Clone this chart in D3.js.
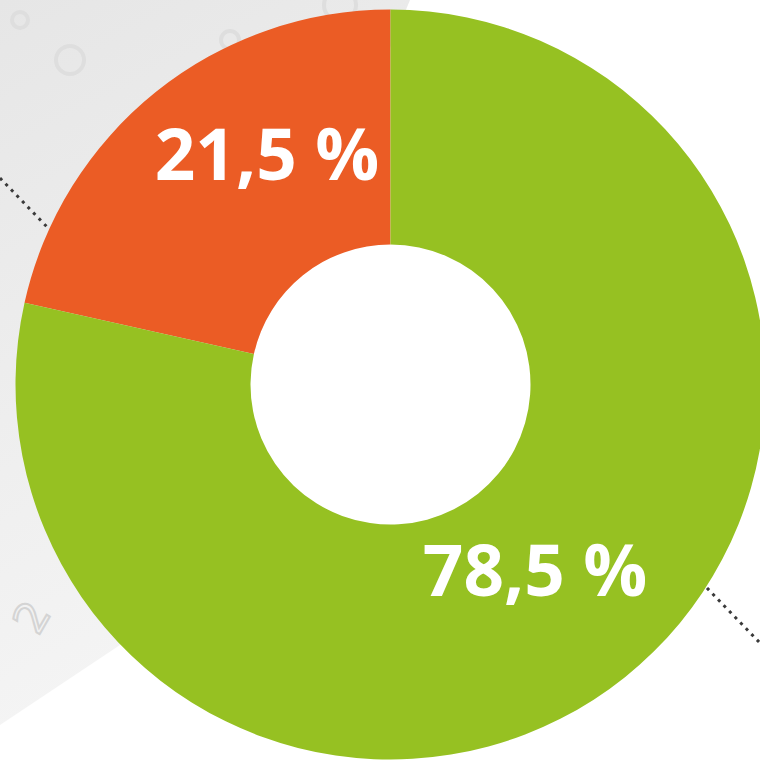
<!DOCTYPE html>
<html>
<head>
<meta charset="utf-8">
<script src="https://cdn.jsdelivr.net/npm/d3@7"></script>
<style>
  html, body { margin: 0; padding: 0; background: #fff; }
  svg { display: block; }
</style>
</head>
<body>
<div id="chart"></div>
<script>
var width = 760, height = 762;

// data
var categories = ["Anteil A", "Anteil B"];
var values = [21.5, 78.5];
var labels = ["21,5 %", "78,5 %"];
var colors = ["#EB5C25", "#96C122"];

var cx = 390.5, cy = 384.5,
    outerR = 375, innerR = 140;

var svg = d3.select("#chart").append("svg")
    .attr("width", width)
    .attr("height", height);

// faint banknote backdrop on the left
var defs = svg.append("defs");
var grad = defs.append("linearGradient")
    .attr("id", "note")
    .attr("x1", "0").attr("y1", "0").attr("x2", "0.3").attr("y2", "1");
grad.append("stop").attr("offset", "0").attr("stop-color", "#e6e6e6");
grad.append("stop").attr("offset", "1").attr("stop-color", "#f5f5f5");

var back = svg.append("g");
back.append("path")
    .attr("d", "M0,0 L410,0 L150,625 L0,725 Z")
    .attr("fill", "url(#note)");
// a few swirl-ish ornaments
[[70, 60, 14], [210, 80, 12], [75, 250, 10], [340, 5, 16], [20, 20, 8], [230, 40, 9], [150, 150, 12]].forEach(function(c) {
  back.append("circle")
    .attr("cx", c[0]).attr("cy", c[1]).attr("r", c[2])
    .attr("fill", "none").attr("stroke", "#dedede").attr("stroke-width", 4);
});
back.append("text")
    .attr("transform", "translate(45,625) rotate(-60)")
    .attr("font-family", "DejaVu Sans")
    .attr("font-size", 44)
    .attr("fill", "none")
    .attr("stroke", "#d4d4d4")
    .attr("stroke-width", 2)
    .attr("text-anchor", "middle")
    .text("2");

// dotted leader lines
var leaders = [[[0, 178], [48, 228]], [[707, 588], [760, 643]]];
svg.selectAll(".leader")
  .data(leaders)
  .enter().append("line")
    .attr("class", "leader")
    .attr("x1", function(d) { return d[0][0]; })
    .attr("y1", function(d) { return d[0][1]; })
    .attr("x2", function(d) { return d[1][0]; })
    .attr("y2", function(d) { return d[1][1]; })
    .attr("stroke", "#3a3a3a")
    .attr("stroke-width", 3)
    .attr("stroke-dasharray", "3 5");

// counter-clockwise from 12 o'clock
var pie = d3.pie().sort(null)
    .startAngle(0).endAngle(-2 * Math.PI)
    .value(function(d) { return d; });
var arc = d3.arc().innerRadius(innerR).outerRadius(outerR);

var g = svg.append("g")
    .attr("transform", "translate(" + cx + "," + cy + ")");

// white hole
g.append("circle").attr("r", innerR).attr("fill", "#fff");

var arcs = pie(values);

g.selectAll(".slice")
  .data(arcs)
  .enter().append("path")
    .attr("class", "slice")
    .attr("d", arc)
    .attr("fill", function(d, i) { return colors[i]; });

// labels: from a mid-ring centroid, orange one nudged towards the top
var labelArc = d3.arc().innerRadius(236).outerRadius(236);
var nudge = [[24, -45], [-3, 2]];

g.selectAll(".lbl")
  .data(arcs)
  .enter().append("text")
    .attr("class", "lbl")
    .attr("transform", function(d, i) {
      var c = labelArc.centroid(d);
      return "translate(" + (c[0] + nudge[i][0]) + "," + (c[1] + nudge[i][1]) + ")";
    })
    .attr("dy", "0.35em")
    .attr("text-anchor", "middle")
    .attr("font-family", "'Open Sans', sans-serif")
    .attr("font-weight", "bold")
    .attr("font-size", 71)
    .attr("fill", "#fff")
    .text(function(d, i) { return labels[i]; });
</script>
</body>
</html>
